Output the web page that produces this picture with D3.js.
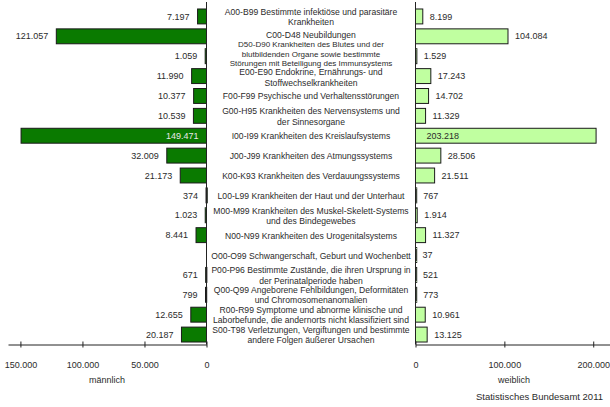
<!DOCTYPE html>
<html><head><meta charset="utf-8">
<script src="https://cdn.jsdelivr.net/npm/d3@7"></script>
<style>
html,body{margin:0;padding:0;background:#fff;}
svg{display:block;font-family:"Liberation Sans","DejaVu Sans",sans-serif;}
</style></head>
<body><svg id="c" width="610" height="407"></svg>
<script>
const categories = [
  ["A00-B99 Bestimmte infektiöse und parasitäre","Krankheiten"],
  ["C00-D48 Neubildungen"],
  ["D50-D90 Krankheiten des Blutes und der","blutbildenden Organe sowie bestimmte","Störungen mit Beteiligung des Immunsystems"],
  ["E00-E90 Endokrine, Ernährungs- und","Stoffwechselkrankheiten"],
  ["F00-F99 Psychische und Verhaltensstörungen"],
  ["G00-H95 Krankheiten des Nervensystems und","der Sinnesorgane"],
  ["I00-I99 Krankheiten des Kreislaufsystems"],
  ["J00-J99 Krankheiten des Atmungssystems"],
  ["K00-K93 Krankheiten des Verdauungssystems"],
  ["L00-L99 Krankheiten der Haut und der Unterhaut"],
  ["M00-M99 Krankheiten des Muskel-Skelett-Systems","und des Bindegewebes"],
  ["N00-N99 Krankheiten des Urogenitalsystems"],
  ["O00-O99 Schwangerschaft, Geburt und Wochenbett"],
  ["P00-P96 Bestimmte Zustände, die ihren Ursprung in","der Perinatalperiode haben"],
  ["Q00-Q99 Angeborene Fehlbildungen, Deformitäten","und Chromosomenanomalien"],
  ["R00-R99 Symptome und abnorme klinische und","Laborbefunde, die andernorts nicht klassifiziert sind"],
  ["S00-T98 Verletzungen, Vergiftungen und bestimmte","andere Folgen äußerer Ursachen"]
];
const maleValues = [7197,121057,1059,11990,10377,10539,149471,32009,21173,374,1023,8441,null,671,799,12655,20187];
const femaleValues = [8199,104084,1529,17243,14702,11329,203218,28506,21511,767,1914,11327,37,521,773,10961,13125];
const maleTicks = [150000,100000,50000,0];
const femaleTicks = [0,100000,200000];
const maleTitle = "männlich";
const femaleTitle = "weiblich";
const sourceText = "Statistisches Bundesamt 2011";

const fmt = v => d3.format(",")(v).replace(/,/g,".");
const svg = d3.select("#c");
const idx = d3.range(categories.length);
const y = d3.scaleBand().domain(idx).range([6.5,344.5]).paddingInner(0.25).paddingOuter(0.125);
const xL = d3.scaleLinear().domain([0,160000]).range([206.5,8]);
const xR = d3.scaleLinear().domain([0,220000]).range([415.5,611]);
const axisY = 344.5;
const textCol = "#2b2b2b";
const maleFill = "#0a7a00", femaleFill = "#c0ffa0", stroke = "#1a1a1a";

// male bars
svg.append("g").selectAll("rect").data(idx.filter(i=>maleValues[i]!=null)).join("rect")
  .attr("x", i=>xL(maleValues[i])).attr("y", i=>y(i))
  .attr("width", i=>Math.max(xL(0)-xL(maleValues[i]),1.2)).attr("height", y.bandwidth())
  .attr("fill", maleFill).attr("stroke", stroke).attr("stroke-width",1);
// female bars
svg.append("g").selectAll("rect").data(idx).join("rect")
  .attr("x", xR(0)).attr("y", i=>y(i))
  .attr("width", i=>Math.max(xR(femaleValues[i])-xR(0),1.2)).attr("height", y.bandwidth())
  .attr("fill", femaleFill).attr("stroke", stroke).attr("stroke-width",1);

// male value labels
svg.append("g").selectAll("text").data(idx.filter(i=>maleValues[i]!=null)).join("text")
  .attr("x", i=> maleValues[i]>140000 ? xL(0)-8 : xL(maleValues[i])-8)
  .attr("y", i=>y(i)+y.bandwidth()/2).attr("dy","0.35em")
  .attr("text-anchor","end").attr("font-size","9px")
  .attr("fill", i=> maleValues[i]>140000 ? "#e8e8e8" : textCol)
  .text(i=>fmt(maleValues[i]));
// female value labels
svg.append("g").selectAll("text").data(idx).join("text")
  .attr("x", i=> femaleValues[i]>190000 ? xR(0)+11 : xR(femaleValues[i])+7)
  .attr("y", i=>y(i)+y.bandwidth()/2).attr("dy","0.35em")
  .attr("text-anchor","start").attr("font-size","9px").attr("fill", textCol)
  .text(i=>fmt(femaleValues[i]));

// category labels
const cg = svg.append("g").attr("fill",textCol).attr("text-anchor","middle");
idx.forEach(i=>{
  const lines = categories[i];
  const three = lines.length > 2;
  const fs = three ? 8 : 8.6;
  const lh = three ? 9.6 : 10.3;
  let shift = 0.5;
  if (three) shift = -2.2;
  else if (i>0 && categories[i-1].length>2) shift = 1.5;
  else if (i<categories.length-1 && categories[i+1].length>2) shift = -1;
  const cy = y(i)+y.bandwidth()/2 + shift;
  const t = cg.append("text").attr("font-size",fs+"px").attr("x",311).attr("y",cy - (lines.length-1)*lh/2);
  lines.forEach((l,k)=>{ t.append("tspan").attr("x",311).attr("dy", k===0?"0.35em":lh).text(l); });
});

// axes
function styleAxis(g){
  g.select(".domain").attr("stroke","#222").attr("stroke-width",1);
  g.selectAll(".tick line").attr("stroke","#222").attr("y1",-3).attr("y2",3);
  g.selectAll(".tick text").attr("font-size","9px").attr("fill",textCol).attr("y",17).attr("font-family","Liberation Sans, sans-serif");
}
svg.append("g").attr("transform",`translate(0,${axisY})`)
  .call(d3.axisBottom(xL).tickValues(maleTicks).tickFormat(fmt).tickSizeOuter(0))
  .call(styleAxis);
svg.append("g").attr("transform",`translate(0,${axisY})`)
  .call(d3.axisBottom(xR).tickValues(femaleTicks).tickFormat(fmt).tickSizeOuter(0))
  .call(styleAxis);
// vertical zero lines
svg.append("line").attr("x1",xL(0)).attr("x2",xL(0)).attr("y1",2).attr("y2",axisY).attr("stroke","#222");
svg.append("line").attr("x1",xR(0)).attr("x2",xR(0)).attr("y1",2).attr("y2",axisY).attr("stroke","#222");

svg.append("text").attr("x",107).attr("y",383).attr("text-anchor","middle").attr("font-size","9px").attr("fill",textCol).text(maleTitle);
svg.append("text").attr("x",514).attr("y",383).attr("text-anchor","middle").attr("font-size","9px").attr("fill",textCol).text(femaleTitle);
svg.append("text").attr("x",603).attr("y",400).attr("text-anchor","end").attr("font-size","9.5px").attr("fill",textCol).text(sourceText);
</script></body></html>
